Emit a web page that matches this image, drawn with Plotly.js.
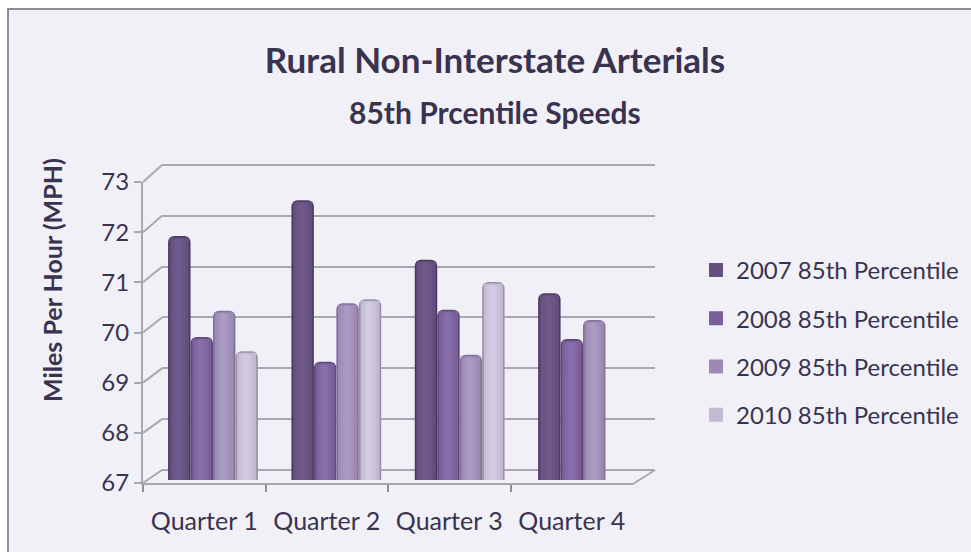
<!DOCTYPE html>
<html><head><meta charset="utf-8">
<script src="https://cdn.plot.ly/plotly-3.0.1.min.js"></script>
<style>html,body{margin:0;padding:0;background:#fff}</style></head>
<body><div id="chart" style="width:971px;height:552px"></div>
<script>
var categories = ["Quarter 1","Quarter 2","Quarter 3","Quarter 4"];
var seriesNames = ["2007 85th Percentile","2008 85th Percentile","2009 85th Percentile","2010 85th Percentile"];
var v2007 = [71.83,72.54,71.36,70.70];
var v2008 = [69.83,69.34,70.37,69.79];
var v2009 = [70.35,70.50,69.48,70.17];
var v2010 = [69.55,70.58,70.92,null];
var yTicks = [67,68,69,70,71,72,73];

var W=971,H=552;
var fontFam='Lato, "Open Sans", sans-serif', ink='#3a3350', lineC='#a8a8b2';
var seriesValues=[v2007,v2008,v2009,v2010];
var shades=[
 ['#4b3b63','#64507f','#6a5584','#6e5a8a'],
 ['#5d4a76','#7a5f9b','#8066a2','#876daa'],
 ['#80739a','#9d8ab3','#a393bc','#aa9bc3'],
 ['#9a93a8','#c3b9d3','#cbc2db','#d2cae0']];
var layers=[{w:1,lift:0},{w:0.76,lift:0.05},{w:0.6,lift:0.05},{w:0.3,lift:0.05}];
var bw=0.182;

var data=[];
data.push({type:'scatter',x:categories,y:[null,null,null,null],xaxis:'x',yaxis:'y',showlegend:false,hoverinfo:'skip'});
data.push({type:'scatter',x:categories,y:[null,null,null,null],xaxis:'x2',yaxis:'y2',showlegend:false,hoverinfo:'skip'});
seriesValues.forEach(function(vals,i){
  layers.forEach(function(l,j){
    var w=bw*l.w;
    var isLegend=j===1;
    data.push({type:'bar',name:seriesNames[i],x:categories,
      y:vals.map(function(v){return v===null?null:v-l.lift;}),
      xaxis:'x3',yaxis:'y3',width:w,
      offset:-2*bw+i*bw+(bw-w)/2-(j>=2?0.006:0),
      legendgroup:'s'+i,showlegend:isLegend,
      marker:{color:shades[i][j],cornerradius:isLegend?0:(j===0?6:4),line:{width:isLegend?2:0,color:shades[i][j]}},
      hoverinfo:j===0?'x+y+name':'skip'});
  });
});

function fx(p){return p/W;} function fy(p){return 1-p/H;}
var shapes=[{type:'rect',xref:'paper',yref:'paper',x0:fx(8),x1:fx(980),y0:fy(9),y1:fy(560),fillcolor:'#f1f0f7',line:{color:'#8e8e96',width:2},layer:'below'}];
yTicks.forEach(function(t){
  var yf=483-(t-67)*50.17, yb=470-(t-67)*50.83;
  shapes.push({type:'line',xref:'paper',yref:'paper',x0:fx(143),y0:fy(yf),x1:fx(162),y1:fy(yb),line:{color:lineC,width:2}});
});
shapes.push({type:'line',xref:'paper',yref:'paper',x0:fx(633),y0:fy(484),x1:fx(655),y1:fy(470),line:{color:lineC,width:2}});

var layout={width:W,height:H,margin:{l:0,r:0,t:0,b:0},paper_bgcolor:'#fff',plot_bgcolor:'rgba(0,0,0,0)',
 font:{family:fontFam,color:ink},barmode:'overlay',shapes:shapes,
 title:{text:'<b>Rural Non-Interstate Arterials</b>',font:{size:35,family:fontFam,color:ink},x:495/W,xanchor:'center',y:fy(61),yanchor:'middle'},
 annotations:[
  {text:'<b>85th Prcentile Speeds</b>',xref:'paper',yref:'paper',x:fx(495),y:fy(112),showarrow:false,xanchor:'center',yanchor:'middle',font:{size:30,family:fontFam,color:ink}},
  {text:'<b>Miles Per Hour (MPH)</b>',xref:'paper',yref:'paper',x:fx(52),y:fy(280),showarrow:false,textangle:-90,xanchor:'center',yanchor:'middle',font:{size:25,family:fontFam,color:ink}}],
 xaxis:{domain:[fx(162),fx(655)],type:'category',categoryarray:categories,range:[-0.5,3.5],anchor:'y',showgrid:false,showticklabels:false,ticks:'',zeroline:false,showline:false},
 yaxis:{domain:[1-475.083/H,1-159.917/H],range:[66.9,73.1],anchor:'x',tickvals:yTicks,showgrid:true,gridcolor:lineC,gridwidth:2,showticklabels:false,ticks:'',zeroline:false,showline:false},
 xaxis2:{domain:[fx(143),fx(633)],type:'category',categoryarray:categories,range:[-0.5,3.5],anchor:'y2',tickson:'boundaries',ticks:'outside',ticklen:7,tickwidth:1.5,tickcolor:'#8e8e96',showline:true,linecolor:lineC,linewidth:2,showgrid:false,zeroline:false,ticklabelstandoff:15,tickfont:{size:25,family:fontFam,color:ink}},
 yaxis2:{domain:[1-483/H,1-182/H],range:[67,73],anchor:'x2',tickvals:yTicks,ticks:'outside',ticklen:7,tickwidth:2,tickcolor:lineC,showline:true,linecolor:lineC,linewidth:2,showgrid:false,zeroline:false,tickfont:{size:24,family:fontFam,color:ink}},
 xaxis3:{domain:[fx(151.3),fx(644.7)],type:'category',categoryarray:categories,range:[-0.5,3.5],anchor:'y3',visible:false},
 yaxis3:{domain:[1-480/H,1-177/H],range:[67,73],anchor:'x3',visible:false},
 legend:{x:fx(696),y:fy(248),xanchor:'left',yanchor:'top',bgcolor:'rgba(0,0,0,0)',font:{size:24,family:fontFam,color:ink},tracegroupgap:14,traceorder:'grouped',itemclick:false,itemdoubleclick:false}
};
Plotly.newPlot('chart',data,layout,{displayModeBar:false,responsive:false});
</script></body></html>
